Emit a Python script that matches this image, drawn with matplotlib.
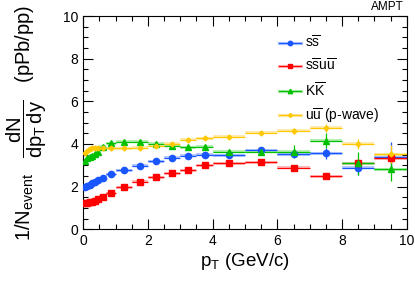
import matplotlib
matplotlib.use("Agg")
import matplotlib.pyplot as plt
from matplotlib.patches import Rectangle
from matplotlib.lines import Line2D
from matplotlib.ticker import MultipleLocator
import numpy as np

plt.rcParams['font.family'] = ['Liberation Sans', 'DejaVu Sans']
plt.rcParams['mathtext.fontset'] = 'custom'
plt.rcParams['mathtext.rm'] = 'Liberation Sans'
plt.rcParams['mathtext.it'] = 'Liberation Sans:italic'
plt.rcParams['mathtext.bf'] = 'Liberation Sans:bold'

# bin edges in pT
bin_edges = [0, 0.08, 0.16, 0.24, 0.32, 0.40, 0.50, 0.70, 1.0, 1.5, 2.0, 2.5,
             3.0, 3.5, 4.0, 5.0, 6.0, 7.0, 8.0, 9.0, 10.0]

ss_vals = [1.97, 2.03, 2.10, 2.16, 2.22, 2.29, 2.40, 2.58, 2.77, 2.98, 3.19, 3.36,
           3.45, 3.50, 3.47, 3.70, 3.52, 3.56, 2.88, 3.41]
ss_err = [0.02]*8 + [0.03]*6 + [0.05, 0.08, 0.15, 0.27, 0.35, 0.70]

ssuu_vals = [1.25, 1.25, 1.26, 1.28, 1.33, 1.40, 1.53, 1.70, 1.97, 2.23, 2.44, 2.63,
             2.77, 3.00, 3.09, 3.14, 2.89, 2.48, 3.09, 3.34]
ssuu_err = [0.02]*8 + [0.03]*6 + [0.05, 0.06, 0.08, 0.12, 0.2, 0.3]

kk_vals = [3.22, 3.36, 3.41, 3.44, 3.51, 3.62, 3.88, 4.03, 4.11, 4.11, 4.02, 3.92,
           3.84, 3.88, 3.64, 3.64, 3.64, 4.16, 3.09, 2.81]
kk_err = [0.04]*8 + [0.05]*6 + [0.1, 0.12, 0.3, 0.35, 0.55, 0.55]

uu_vals = [3.56, 3.69, 3.77, 3.81, 3.81, 3.81, 3.81, 3.80, 3.81, 3.83, 3.91, 4.02,
           4.19, 4.28, 4.34, 4.53, 4.61, 4.75, 4.00, 3.53]
uu_err = [0.02]*8 + [0.03]*6 + [0.05, 0.06, 0.12, 0.18, 0.25, 0.4]

series = [
    (r's$\overline{\mathrm{s}}$', ss_vals, ss_err, '#1a56ff', '#a8c0ff', 'o', 4.5, 3.2),
    (r's$\overline{\mathrm{s}}$u$\overline{\mathrm{u}}$', ssuu_vals, ssuu_err, '#ff0000', '#ffb0b0', 's', 4.5, 3.2),
    (r'K$\overline{\mathrm{K}}$', kk_vals, kk_err, '#00c000', '#a8eca8', '^', 4.5, 3.2),
    (r'u$\overline{\mathrm{u}}$ (p-wave)', uu_vals, uu_err, '#ffc800', '#ffe8a0', 'D', 2.5, 2.0),
]

edges = np.array(bin_edges)
centers = 0.5 * (edges[:-1] + edges[1:])
halfw = 0.5 * (edges[1:] - edges[:-1])

fig = plt.figure(figsize=(4.15, 2.81), dpi=100)
ax = fig.add_axes([0.2007, 0.184, 0.7793, 0.759])

handles = []
for label, vals, errs, col, light, mk, ms, lms in series:
    vals = np.array(vals)
    for c, h, v in zip(centers, halfw, vals):
        ax.add_patch(Rectangle((c - h, v - 0.07), 2 * h, 0.14, facecolor=light,
                               edgecolor='none', alpha=0.85, zorder=1))
    ax.errorbar(centers, vals, xerr=halfw, yerr=errs, fmt=mk, color=col,
                markersize=ms, elinewidth=0.9, capsize=0, zorder=3)
    h1 = Line2D([], [], color=light, lw=2.3)
    h2 = Line2D([], [], color=col, lw=0.8, marker=mk, markersize=lms)
    handles.append((h1, h2))

ax.set_xlim(0, 10)
ax.set_ylim(0, 10)
ax.xaxis.set_major_locator(MultipleLocator(2))
ax.xaxis.set_minor_locator(MultipleLocator(0.5))
ax.yaxis.set_major_locator(MultipleLocator(2))
ax.yaxis.set_minor_locator(MultipleLocator(0.5))
ax.tick_params(which='both', direction='in', top=True, right=True, labelsize=10)
ax.tick_params(which='major', length=7, width=0.8)
ax.tick_params(which='minor', length=3.5, width=0.8)
for sp in ax.spines.values():
    sp.set_linewidth(0.8)

ax.set_xlabel(r'p$_{\mathrm{T}}$ (GeV/c)', fontsize=13.5, labelpad=2)
ax.set_ylabel(r'1/N$_{\mathrm{event}}$   $\dfrac{\mathrm{dN}}{\mathrm{dp}_{\mathrm{T}}\,\mathrm{dy}}$   (pPb/pp)',
              fontsize=14.5)
ax.yaxis.set_label_coords(-0.105, 0.5)

ax.legend(handles=[h for h in handles], labels=[s[0] for s in series],
          loc='upper left', bbox_to_anchor=(0.587, 0.94), frameon=False,
          fontsize=10, handlelength=1.6, handletextpad=0.3, labelspacing=0.5,
          borderaxespad=0)

fig.text(0.972, 0.975, 'AMPT', ha='right', va='center', fontsize=8.5)

fig.savefig('out.png', dpi=100)
